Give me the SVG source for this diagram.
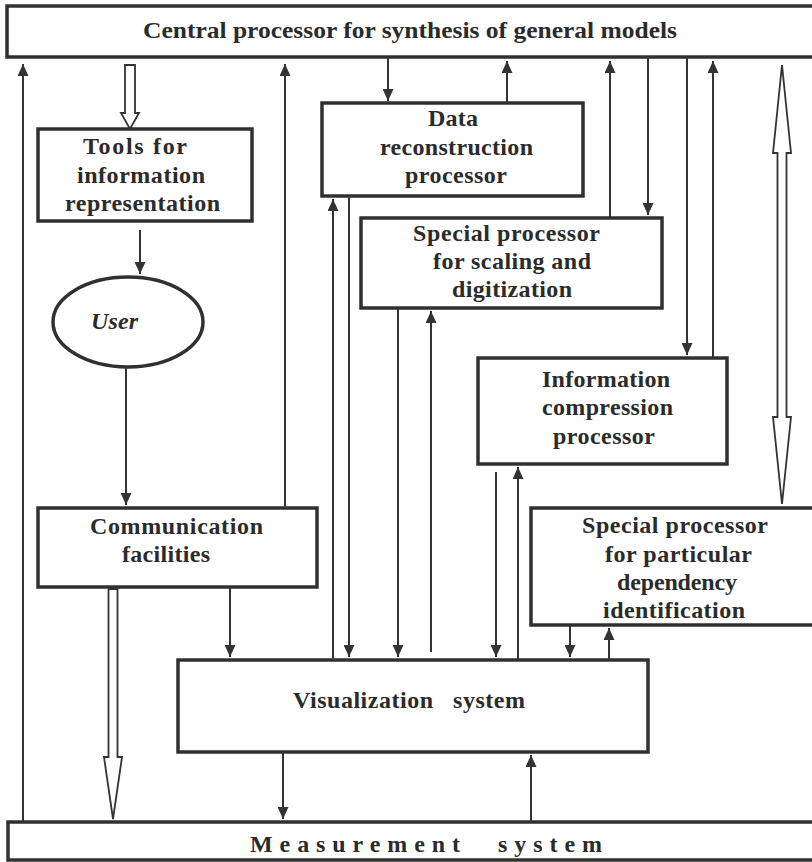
<svg xmlns="http://www.w3.org/2000/svg" width="812" height="862" viewBox="0 0 812 862">
<style>
.box{fill:#fff;stroke:#303030;stroke-width:3.5}
.t{font-family:"Liberation Serif","Times New Roman",serif;font-weight:bold;font-size:24px;fill:#2b2b2b}
.ln{stroke:#333;stroke-width:2;fill:none}
.ar{stroke:#333;stroke-width:2;fill:none;marker-end:url(#ah)}
.hol{fill:#fff;stroke:#333;stroke-width:1.8;stroke-linejoin:miter}
</style>
<defs>
<marker id="ah" viewBox="0 0 10 10" refX="10" refY="5" markerWidth="12" markerHeight="11" markerUnits="userSpaceOnUse" orient="auto" preserveAspectRatio="none">
<path d="M0,0 L10,5 L0,10 z" fill="#333"/>
</marker>
</defs>
<rect width="812" height="862" fill="#fff"/>

<g id="central">
<rect class="box" x="7" y="6" width="820" height="51"/>
<text class="t" x="143" y="38" font-size="22" textLength="534" lengthAdjust="spacingAndGlyphs">Central processor for synthesis of general models</text>
</g>

<g id="tools">
<rect class="box" x="38" y="129" width="214" height="92"/>
<text class="t" x="83" y="154" textLength="104">Tools for</text>
<text class="t" x="77" y="183" textLength="128">information</text>
<text class="t" x="65" y="211" textLength="155">representation</text>
</g>

<g id="user">
<ellipse class="box" cx="128" cy="322" rx="75" ry="45"/>
<text class="t" x="91" y="329" font-style="italic" textLength="47">User</text>
</g>

<g id="data">
<rect class="box" x="322" y="103" width="261" height="93"/>
<text class="t" x="428" y="126" textLength="50">Data</text>
<text class="t" x="380" y="155" textLength="153">reconstruction</text>
<text class="t" x="405" y="183" textLength="102">processor</text>
</g>

<g id="scaling">
<rect class="box" x="361" y="218" width="301" height="90"/>
<text class="t" x="413" y="241" textLength="187">Special processor</text>
<text class="t" x="433" y="269" textLength="158">for scaling and</text>
<text class="t" x="452" y="297" textLength="120">digitization</text>
</g>

<g id="compression">
<rect class="box" x="478" y="358" width="249" height="106"/>
<text class="t" x="542" y="387" textLength="128">Information</text>
<text class="t" x="542" y="415" textLength="131">compression</text>
<text class="t" x="553" y="444" textLength="102">processor</text>
</g>

<g id="communication">
<rect class="box" x="38" y="508" width="279" height="79"/>
<text class="t" x="90" y="534" textLength="173">Communication</text>
<text class="t" x="122" y="562" textLength="88">facilities</text>
</g>

<g id="dependency">
<rect class="box" x="531" y="508" width="300" height="117"/>
<text class="t" x="582" y="533" textLength="186">Special processor</text>
<text class="t" x="605" y="562" textLength="147">for particular</text>
<text class="t" x="617" y="590" textLength="120">dependency</text>
<text class="t" x="603" y="618" textLength="142">identification</text>
</g>

<g id="visualization">
<rect class="box" x="178" y="660" width="470" height="92"/>
<text class="t" x="293" y="708" textLength="140">Visualization</text>
<text class="t" x="453" y="708" textLength="72">system</text>
</g>

<g id="measurement">
<rect class="box" x="8" y="822" width="820" height="38"/>
<text class="t" x="250" y="852" font-size="21" textLength="210">Measurement</text>
<text class="t" x="498" y="852" font-size="21" textLength="104">system</text>
</g>

<g id="connectors">
<line class="ar" x1="23" y1="822" x2="23" y2="64"/>
<line class="ar" x1="285" y1="508" x2="285" y2="64"/>
<line class="ar" x1="388" y1="57" x2="388" y2="101"/>
<line class="ar" x1="507" y1="103" x2="507" y2="61"/>
<line class="ar" x1="610" y1="218" x2="610" y2="61"/>
<line class="ar" x1="648" y1="57" x2="648" y2="215"/>
<line class="ar" x1="687" y1="57" x2="687" y2="355"/>
<line class="ar" x1="713" y1="358" x2="713" y2="61"/>
<line class="ar" x1="140" y1="230" x2="140" y2="274"/>
<line class="ar" x1="126" y1="367" x2="126" y2="505"/>
<line class="ar" x1="333" y1="660" x2="333" y2="199"/>
<line class="ar" x1="349" y1="196" x2="349" y2="657"/>
<line class="ar" x1="398" y1="308" x2="398" y2="657"/>
<line class="ar" x1="431" y1="652" x2="431" y2="311"/>
<line class="ar" x1="496" y1="472" x2="496" y2="657"/>
<line class="ar" x1="518" y1="660" x2="518" y2="467"/>
<line class="ar" x1="230" y1="587" x2="230" y2="657"/>
<line class="ar" x1="570" y1="625" x2="570" y2="657"/>
<line class="ar" x1="609" y1="660" x2="609" y2="628"/>
<line class="ar" x1="283" y1="752" x2="283" y2="819"/>
<line class="ar" x1="531" y1="822" x2="531" y2="755"/>
<polygon class="hol" points="125,65 135,65 135,113 139,113 130,129 121,113 125,113"/>
<polygon class="hol" points="108.5,589 117.5,589 117.5,757 122,757 113,819 104,757 108.5,757"/>
<polygon class="hol" points="782,65 791,153 786.5,153 786.5,417 791,417 782,504 773,417 777.5,417 777.5,153 773,153"/>
</g>
</svg>
